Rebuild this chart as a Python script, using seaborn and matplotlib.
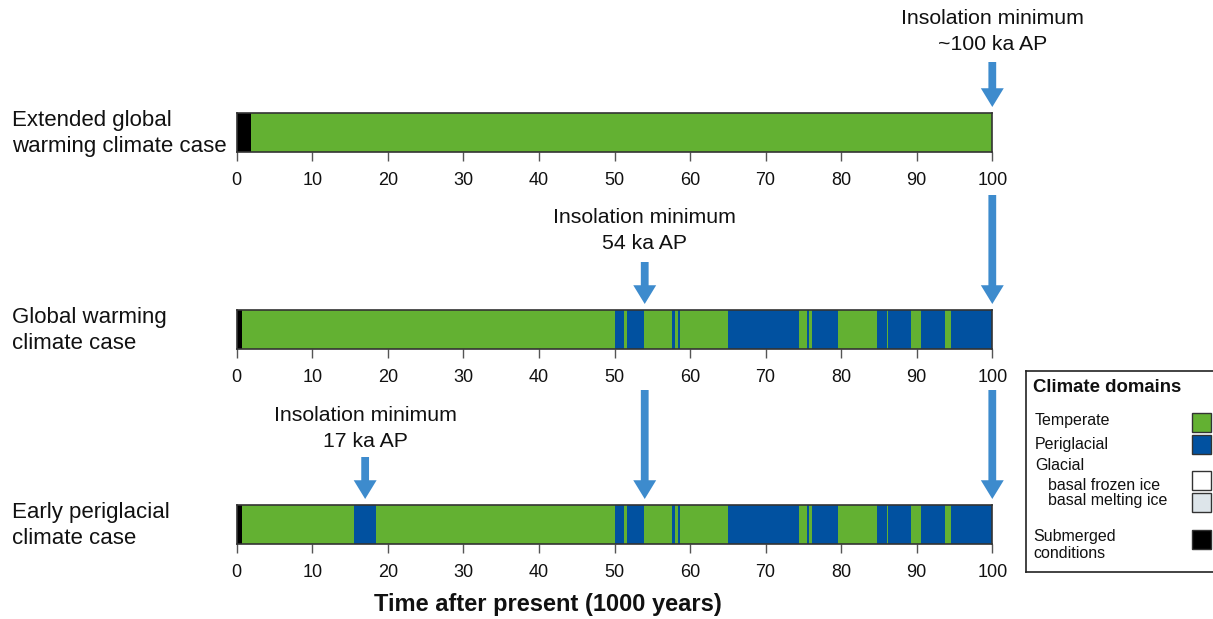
import numpy as np
import pandas as pd
import matplotlib
matplotlib.use("Agg")
import matplotlib.pyplot as plt
import seaborn as sns
from matplotlib.patches import Rectangle, ArrowStyle

# ---------------- data ----------------
case_names = ["Extended global\nwarming climate case",
              "Global warming\nclimate case",
              "Early periglacial\nclimate case"]

ext_breaks = [0, 1.9, 100]
ext_domains = ["Submerged", "Temperate"]

gw_breaks = [0, 0.7, 50.0, 51.25, 51.6, 53.9, 57.6, 58.0, 58.4, 58.7, 65.0,
             74.4, 75.5, 75.8, 76.2, 79.6, 84.7, 86.0, 86.2, 89.2, 90.5,
             93.7, 94.6, 100]
gw_domains = ["Submerged", "Temperate", "Periglacial", "Temperate", "Periglacial",
              "Temperate", "Periglacial", "Temperate", "Periglacial", "Temperate",
              "Periglacial", "Temperate", "Periglacial", "Temperate", "Periglacial",
              "Temperate", "Periglacial", "Temperate", "Periglacial", "Temperate",
              "Periglacial", "Temperate", "Periglacial"]

ep_breaks = [0, 0.7, 15.5, 18.4, 50.0, 51.25, 51.6, 53.9, 57.6, 58.0, 58.4, 58.7,
             65.0, 74.4, 75.5, 75.8, 76.2, 79.6, 84.7, 86.0, 86.2, 89.2, 90.5,
             93.7, 94.6, 100]
ep_domains = ["Submerged", "Temperate", "Periglacial", "Temperate", "Periglacial",
              "Temperate", "Periglacial", "Temperate", "Periglacial", "Temperate",
              "Periglacial", "Temperate", "Periglacial", "Temperate", "Periglacial",
              "Temperate", "Periglacial", "Temperate", "Periglacial", "Temperate",
              "Periglacial", "Temperate", "Periglacial", "Temperate", "Periglacial"]

tick_values = [0, 10, 20, 30, 40, 50, 60, 70, 80, 90, 100]

insolation_minima = [100, 54, 17]
insolation_labels = ["Insolation minimum\n~100 ka AP",
                     "Insolation minimum\n54 ka AP",
                     "Insolation minimum\n17 ka AP"]
# which case row each minimum first appears above
minimum_first_row = [0, 1, 2]

x_label = "Time after present (1000 years)"

legend_title = "Climate domains"
legend_labels = ["Temperate", "Periglacial", "Glacial", "basal frozen ice",
                 "basal melting ice", "Submerged\nconditions"]
legend_keys = ["Temperate", "Periglacial", None, "Frozen", "Melting", "Submerged"]

domain_colors = {"Temperate": "#63b132", "Periglacial": "#0151a0",
                 "Frozen": "#ffffff", "Melting": "#dde5ea", "Submerged": "#000000"}
arrow_color = "#3d8bcd"

# segments table
rows = []
for case, br, dm in zip(case_names, [ext_breaks, gw_breaks, ep_breaks],
                        [ext_domains, gw_domains, ep_domains]):
    for s, e, d in zip(br[:-1], br[1:], dm):
        rows.append({"case": case, "start": s, "end": e, "domain": d})
seg = pd.DataFrame(rows)

# ---------------- style ----------------
sns.set_theme(style="white")
plt.rcParams["font.family"] = ["Liberation Sans", "DejaVu Sans"]

W, H = 1213, 619
fig = plt.figure(figsize=(W / 100, H / 100), dpi=100)

x0_px, x1_px = 236.7, 992.3
bar_tops = [113, 310, 505]
bar_h = 38.5

def fx(px):
    return px / W

def fy(py):
    return 1 - py / H

axes = []
for i, case in enumerate(case_names):
    ax = fig.add_axes([fx(x0_px), fy(bar_tops[i] + bar_h), fx(x1_px - x0_px), bar_h / H])
    d = seg[seg["case"] == case]
    ax.barh(np.zeros(len(d)), d["end"] - d["start"], left=d["start"], height=1.0,
            color=[domain_colors[k] for k in d["domain"]], linewidth=0)
    ax.set_xlim(0, 100)
    ax.set_ylim(-0.5, 0.5)
    ax.set_yticks([])
    ax.set_xticks(tick_values)
    ax.set_xticklabels([str(t) for t in tick_values])
    ax.tick_params(axis="x", bottom=True, length=6.5, width=1, color="#555555",
                   labelsize=13, pad=8, labelcolor="#111111")
    for sp in ax.spines.values():
        sp.set_visible(True)
        sp.set_color("#333333")
        sp.set_linewidth(1.2)
    ax.grid(False)
    axes.append(ax)

# overlay in data-x / pixel-y space for arrows
ov = fig.add_axes([fx(x0_px), 0, fx(x1_px - x0_px), 1])
ov.set_xlim(0, 100)
ov.set_ylim(H, 0)
ov.axis("off")
ov.patch.set_alpha(0)

astyle = ArrowStyle.Simple(head_length=13.5, head_width=16.5, tail_width=5.6)

def arrow(x, y_start, y_tip):
    ov.annotate("", xy=(x, y_tip), xytext=(x, y_start), annotation_clip=False,
                arrowprops=dict(arrowstyle=astyle, mutation_scale=1, color=arrow_color,
                                shrinkA=0, shrinkB=0, linewidth=0))

text_centers = [31.5, 230.5, 428.5]
first_arrow_start = [62, 262, 457]
cont_arrow_start = [None, 195, 390]
for m, lab, r, tc, fs in zip(insolation_minima, insolation_labels, minimum_first_row,
                              text_centers, first_arrow_start):
    ov.text(m, tc, lab, ha="center", va="center", fontsize=15.3, linespacing=1.45,
            color="#111111", clip_on=False)
    arrow(m, fs, bar_tops[r] - 6)
    for rr in range(r + 1, len(case_names)):
        arrow(m, cont_arrow_start[rr], bar_tops[rr] - 6)

# row labels
for i, case in enumerate(case_names):
    fig.text(fx(12), fy(bar_tops[i] + bar_h / 2 + 1.5), case, ha="left", va="center",
             fontsize=16, linespacing=1.3, color="#111111")

fig.text(fx(548), fy(605), x_label, ha="center", va="center", fontsize=17,
         fontweight="bold", color="#111111")

# legend panel (pixel coordinates)
lg = fig.add_axes([fx(1026), fy(572), fx(200), 201 / H])
lg.set_xlim(1026, 1226)
lg.set_ylim(572, 371)
lg.set_xticks([]); lg.set_yticks([])
for sp in lg.spines.values():
    sp.set_visible(True)
    sp.set_color("#222222")
    sp.set_linewidth(1.2)
lg.patch.set_facecolor("white")

lg.text(1033, 388, legend_title, ha="left", va="center", fontsize=13.4,
        fontweight="bold", color="#111111")
label_pos = [(1035, 421), (1035, 444), (1035, 465), (1048, 485), (1048, 501), (1033, 545)]
swatch_y = [413, 435, None, 471, 493, 530]
for lab, key, (lx, ly), sy in zip(legend_labels, legend_keys, label_pos, swatch_y):
    lg.text(lx, ly, lab, ha="left", va="center", fontsize=11.5, linespacing=1.25,
            color="#111111")
    if key is not None:
        lg.add_patch(Rectangle((1192, sy), 19, 19, facecolor=domain_colors[key],
                               edgecolor="#333333", linewidth=1))

fig.savefig("out.png", dpi=100)
